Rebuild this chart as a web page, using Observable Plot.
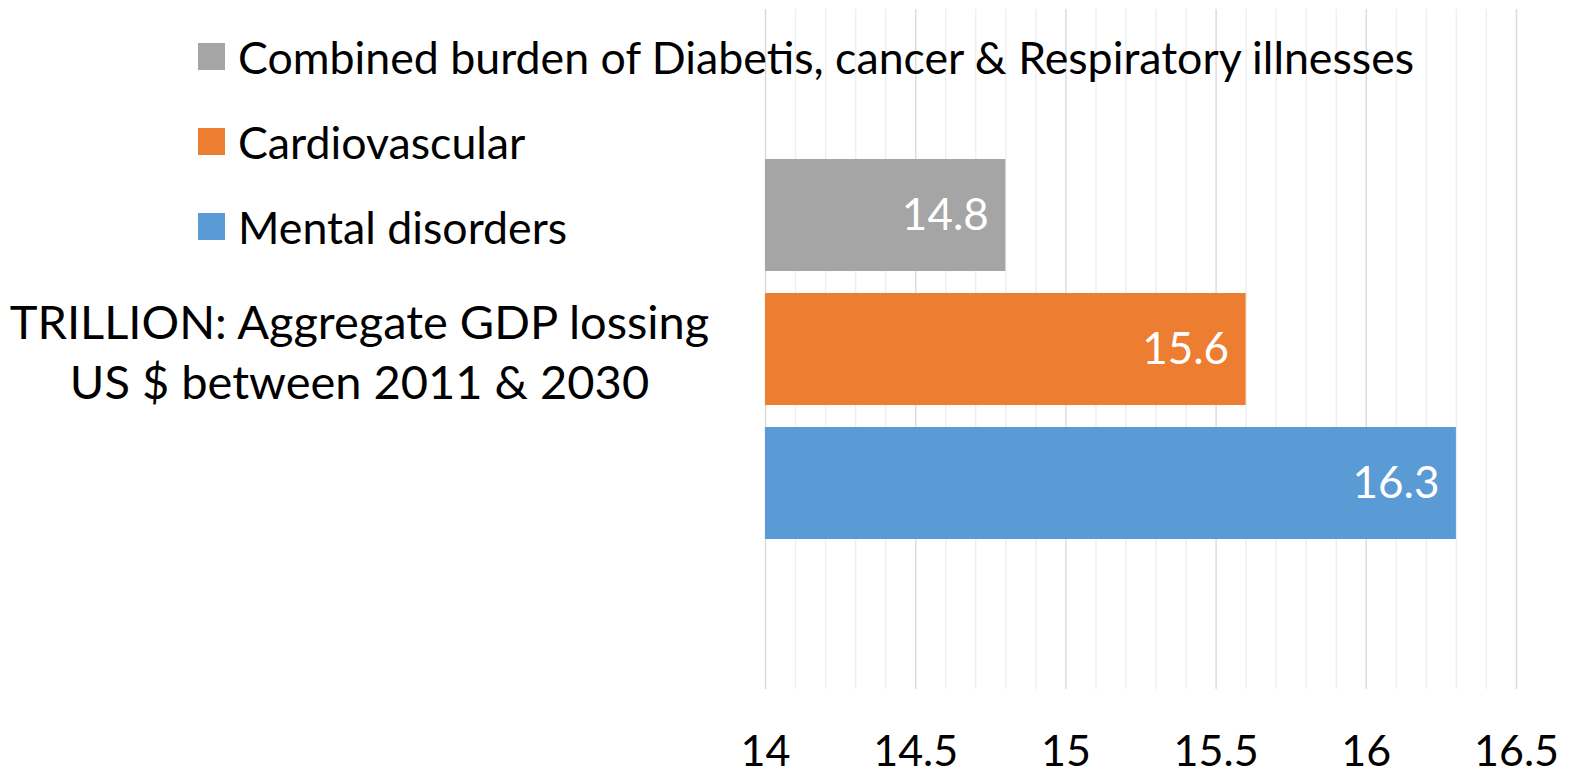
<!DOCTYPE html>
<html>
<head>
<meta charset="utf-8">
<script src="https://cdn.jsdelivr.net/npm/d3@7"></script>
<script src="https://cdn.jsdelivr.net/npm/@observablehq/plot@0.6"></script>
<style>
  html, body { margin: 0; padding: 0; background: #fff; }
  #wrap { position: relative; width: 1572px; height: 778px; font-family: Lato, "Open Sans", sans-serif; }
  #legend { position: absolute; left: 198px; top: 14px; }
  .item { display: flex; align-items: center; height: 85px; font-size: 44.7px; color: #000; white-space: nowrap; }
  .sw { width: 27px; height: 27px; margin-right: 13px; flex: none; }
</style>
</head>
<body>
<div id="wrap"></div>
<script>
const category = "TRILLION: Aggregate GDP lossing\nUS $ between 2011 & 2030";
const series = ["Combined burden of Diabetis, cancer & Respiratory illnesses", "Cardiovascular", "Mental disorders"];
const values = [14.8, 15.6, 16.3];
const colors = ["#A5A5A5", "#ED7D31", "#5B9BD5"];
const xTicks = [14, 14.5, 15, 15.5, 16, 16.5];
const minorTicks = d3.range(0, 26).map(i => +(14 + i * 0.1).toFixed(1)).filter(v => !xTicks.includes(v));

const data = series.map((s, i) => ({category, series: s, value: values[i]}));

const chart = Plot.plot({
  width: 1572,
  height: 778,
  marginLeft: 765,
  marginRight: 56,
  marginTop: 9,
  marginBottom: 89,
  style: {fontFamily: "Lato, 'Open Sans', sans-serif", background: "#fff"},
  x: {domain: [14, 16.5], label: null},
  y: {domain: series, paddingInner: 0.167, paddingOuter: 1.11, axis: null},
  fy: {domain: [category], padding: 0, label: null},
  color: {domain: series, range: colors},
  marks: [
    Plot.ruleX(minorTicks, {stroke: "#efefef", strokeWidth: 1.5}),
    Plot.ruleX(xTicks.slice(1), {stroke: "#dcdcdc", strokeWidth: 1.5}),
    Plot.ruleX([14], {stroke: "#d9d9d9", strokeWidth: 1.5}),
    Plot.barX(data, {x1: 14, x2: "value", y: "series", fy: "category", fill: "series"}),
    Plot.text(data, {x: "value", y: "series", fy: "category", text: d => d.value.toFixed(1),
      textAnchor: "end", dx: -17, fill: "white", fontSize: 44}),
    Plot.axisX({ticks: xTicks, tickSize: 0, tickPadding: 46, fontSize: 43, tickFormat: d => String(d), label: null, fill: "#000"}),
    Plot.axisFy({anchor: "left", tickSize: 0, tickPadding: 0, textAnchor: "middle", dx: -406, fontSize: 47, label: null, lineHeight: 1.28})
  ]
});

const wrap = document.getElementById("wrap");
wrap.appendChild(chart);
const legend = document.createElement("div");
legend.id = "legend";
series.forEach((s, i) => {
  const it = document.createElement("div");
  it.className = "item";
  it.innerHTML = `<span class="sw" style="background:${colors[i]}"></span><span></span>`;
  it.lastChild.textContent = s;
  legend.appendChild(it);
});
wrap.appendChild(legend);
</script>
</body>
</html>
